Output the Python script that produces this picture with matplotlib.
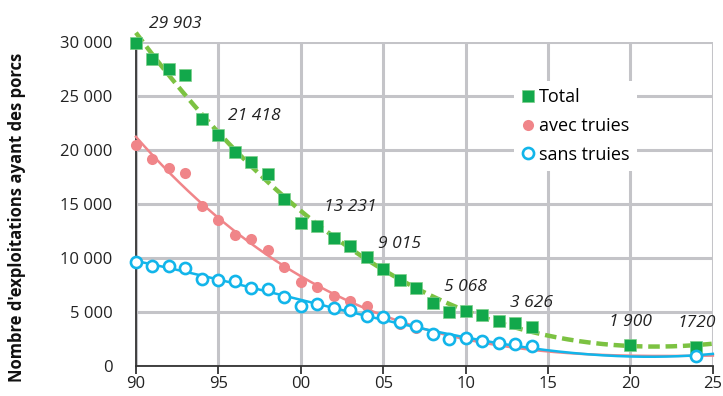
import numpy as np
import matplotlib
matplotlib.use('Agg')
import matplotlib.pyplot as plt

plt.rcParams['font.family'] = ['Open Sans', 'DejaVu Sans']

# values
years_total = [1990, 1991, 1992, 1993, 1994, 1995, 1996, 1997, 1998, 1999,
               2000, 2001, 2002, 2003, 2004, 2005, 2006, 2007, 2008, 2009,
               2010, 2011, 2012, 2013, 2014, 2020, 2024]
total = [29903, 28400, 27500, 26900, 22900, 21418, 19800, 18900, 17800, 15500,
         13231, 12950, 11800, 11100, 10100, 9015, 7950, 7250, 5800, 5000,
         5068, 4700, 4200, 4000, 3626, 1900, 1720]

years_sows = [1990, 1991, 1992, 1993, 1994, 1995, 1996, 1997, 1998, 1999,
              2000, 2001, 2002, 2003, 2004, 2005, 2006, 2007, 2008, 2009,
              2010, 2011, 2012, 2013, 2014, 2024]
avec = [20500, 19200, 18300, 17900, 14800, 13500, 12100, 11750, 10700, 9200,
        7800, 7300, 6500, 6000, 5550, 4500, 3850, 3550, 2850, 2500,
        2450, 2400, 2050, 2000, 1780, 800]
sans = [9600, 9250, 9250, 9050, 8050, 8000, 7900, 7200, 7100, 6400,
        5550, 5750, 5400, 5200, 4600, 4500, 4100, 3700, 2950, 2500,
        2600, 2300, 2150, 2000, 1850, 950]

label_years = [1992.4, 1997.2, 2003.0, 2006.0, 2010.0, 2014.0, 2020.0, 2024.0]
label_y = [31700, 23150, 14700, 11300, 7300, 5800, 4050, 3950]
label_txt = ['29 903', '21 418', '13 231', '9 015', '5 068', '3 626', '1 900', '1720']

c_green = '#12a84b'
c_lgreen = '#7cc242'
c_pink = '#f08589'
c_blue = '#12b5ea'
c_grid = '#c4c4c8'

fig = plt.figure(figsize=(7.23, 3.96), dpi=100)
ax = fig.add_axes([0.188, 0.076, 0.798, 0.818])

xs = np.linspace(1990, 2025, 200)

# polynomial trend lines, as in the original
fit = np.polyfit(years_total, total, 3)
ax.plot(xs, np.polyval(fit, xs), color=c_lgreen, lw=3.2, dashes=(2.6, 1.3),
        clip_on=False, zorder=3)
fit = np.polyfit(years_sows, avec, 3)
ax.plot(xs, np.polyval(fit, xs), color=c_pink, lw=1.8, clip_on=False, zorder=3)
fit = np.polyfit(years_sows, sans, 3)
ax.plot(xs, np.polyval(fit, xs), color=c_blue, lw=1.8, clip_on=False, zorder=3)

ax.plot(years_total, total, 's', color=c_green, ms=8, mec='#7dd08a', mew=0.5,
        label='Total', clip_on=False, zorder=4)
ax.plot(years_sows, avec, 'o', color=c_pink, ms=8, mew=0,
        label='avec truies', clip_on=False, zorder=4)
ax.plot(years_sows, sans, 'o', mfc='white', mec=c_blue, ms=8, mew=1.9,
        label='sans truies', clip_on=False, zorder=5)

for x, y, t in zip(label_years, label_y, label_txt):
    ax.text(x, y, t, ha='center', va='center', style='italic', fontsize=12.5,
            color='#222222', clip_on=False, zorder=6)

ax.set_xlim(1990, 2025)
ax.set_ylim(0, 30000)
ax.set_xticks(np.arange(1990, 2026, 5))
ax.set_xticklabels(['90', '95', '00', '05', '10', '15', '20', '25'])
ax.set_yticks(np.arange(0, 30001, 5000))
ax.set_yticklabels(['0', '5 000', '10 000', '15 000', '20 000', '25 000', '30 000'])
ax.grid(True, color=c_grid, lw=2.2, zorder=0)
ax.set_axisbelow(True)

for s in ['top', 'right']:
    ax.spines[s].set_visible(False)
for s in ['left', 'bottom']:
    ax.spines[s].set_color('#333333')
    ax.spines[s].set_linewidth(1.3)
    ax.spines[s].set_zorder(2)

ax.tick_params(axis='x', direction='out', length=6, width=1.3, color='#333333',
               labelsize=12, labelcolor='#222222', pad=1)
ax.tick_params(axis='y', length=0, labelsize=12, labelcolor='#222222', pad=17)

ax.set_ylabel("Nombre d'exploitations ayant des porcs", fontsize=12,
              fontweight='bold', color='#111111')
ax.yaxis.set_label_coords(-0.19, 0.46)

leg = ax.legend(loc='upper left', bbox_to_anchor=(0.655, 0.88), frameon=True,
                fontsize=13, handlelength=0.8, handletextpad=0.2,
                labelspacing=0.6, borderpad=0.4, borderaxespad=0)
leg.get_frame().set_facecolor('white')
leg.get_frame().set_edgecolor('none')
leg.get_frame().set_alpha(1)
leg.get_frame().set_boxstyle('square', pad=0)

fig.savefig('out.png', dpi=100)
